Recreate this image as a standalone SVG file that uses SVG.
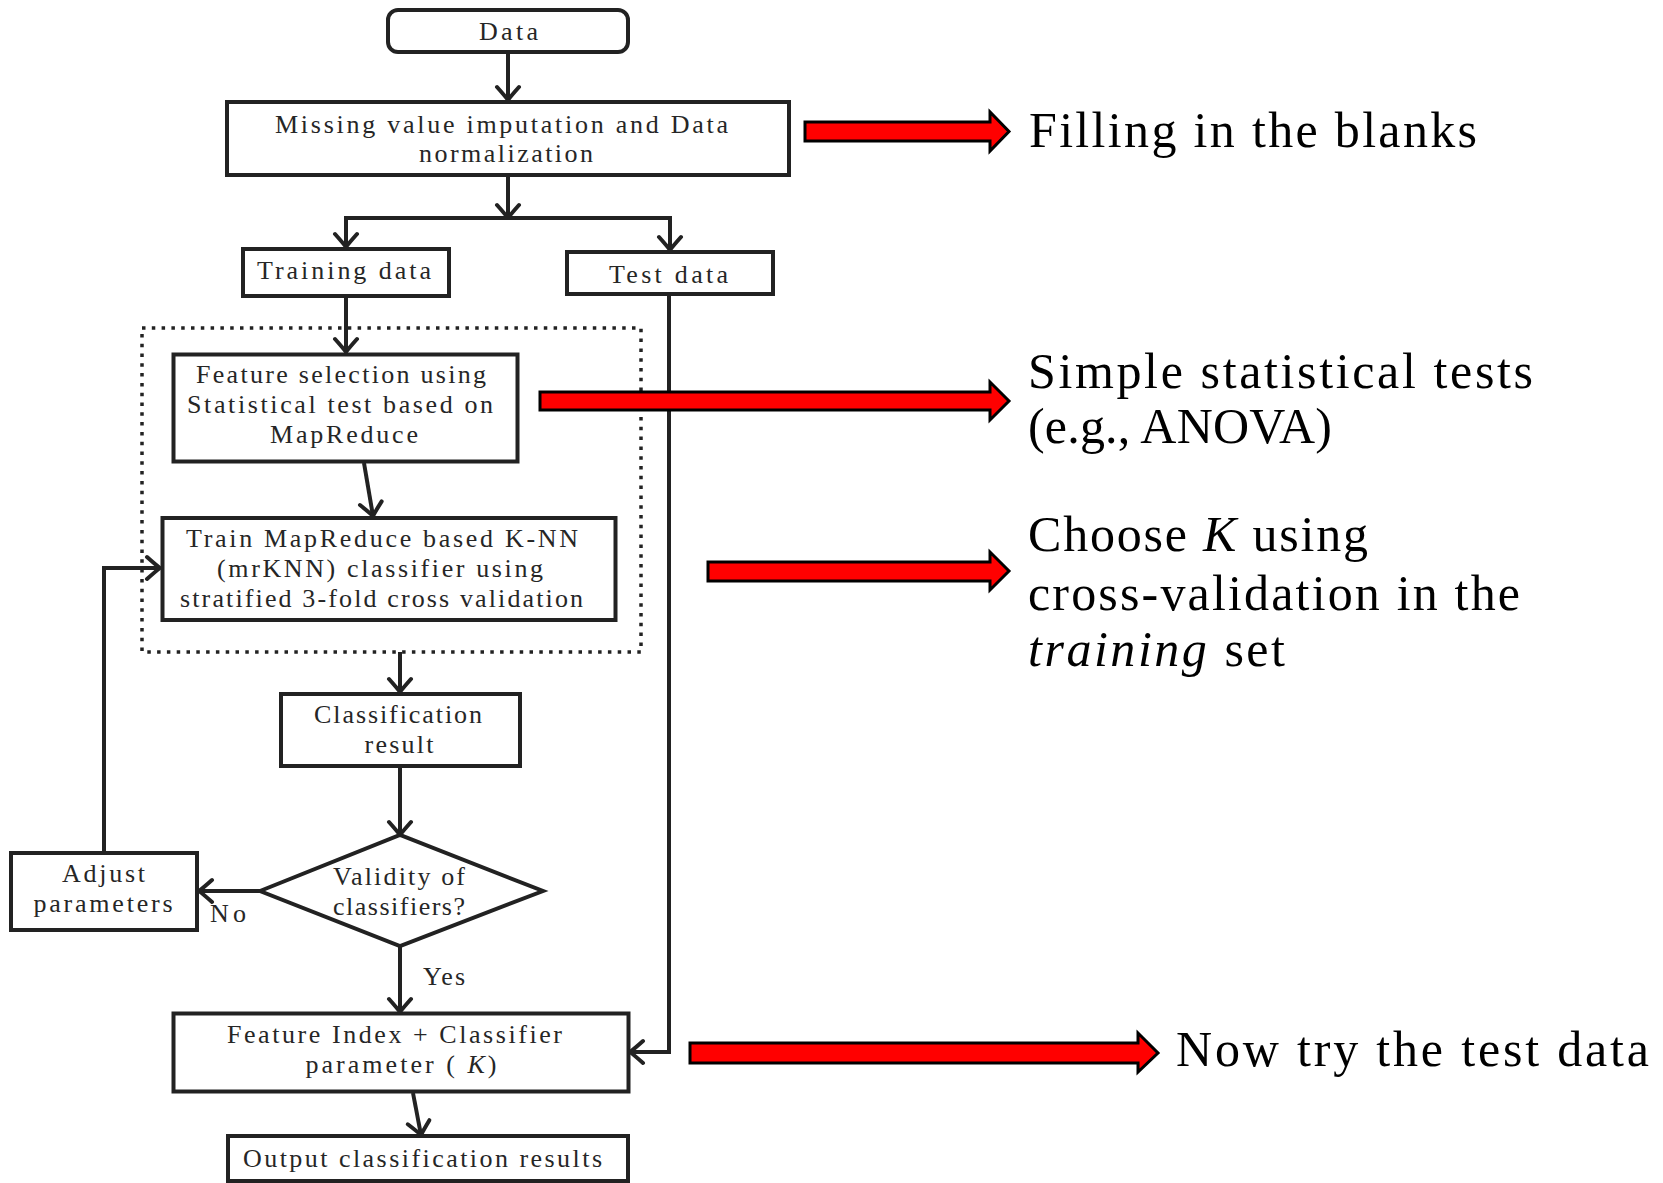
<svg xmlns="http://www.w3.org/2000/svg" width="1663" height="1183" viewBox="0 0 1663 1183">
<style>
  .box { fill: #fff; stroke: #222; stroke-width: 4; }
  .dot { fill: none; stroke: #222; stroke-width: 3.5; stroke-dasharray: 3.5 6.3; }
  .con { fill: none; stroke: #222; stroke-width: 4; }
  .t { font-family: 'Liberation Serif', 'DejaVu Serif', serif; font-size: 26px; fill: #262626; text-anchor: middle; }
  .ts { font-family: 'Liberation Serif', 'DejaVu Serif', serif; font-size: 26px; fill: #262626; }
  .big { font-family: 'Liberation Serif', 'DejaVu Serif', serif; font-size: 50px; fill: #000; }
  .red { fill: #ff0000; stroke: #000; stroke-width: 3; stroke-linejoin: miter; }
  .it { font-style: italic; }
</style>
<defs>
  <marker id="ah" viewBox="-16 -14 18 28" refX="0" refY="0" markerWidth="18" markerHeight="28" markerUnits="userSpaceOnUse" orient="auto">
    <path d="M-13,-11 Q-4,-3 0,0 Q-4,3 -13,11" fill="none" stroke="#222" stroke-width="4" stroke-linecap="round"/>
  </marker>
</defs>
<rect width="1663" height="1183" fill="#fff"/>

<g id="group-cv">
  <rect class="dot" x="142" y="328" width="499" height="324"/>
</g>

<g id="connectors">
  <line class="con" x1="508" y1="53" x2="508" y2="100" marker-end="url(#ah)"/>
  <line class="con" x1="508" y1="175" x2="508" y2="218" marker-end="url(#ah)"/>
  <line class="con" x1="344" y1="218" x2="672" y2="218"/>
  <line class="con" x1="346" y1="218" x2="346" y2="247" marker-end="url(#ah)"/>
  <line class="con" x1="670" y1="218" x2="670" y2="250" marker-end="url(#ah)"/>
  <line class="con" x1="346" y1="297" x2="346" y2="352" marker-end="url(#ah)"/>
  <line class="con" x1="364" y1="463" x2="373" y2="516" marker-end="url(#ah)"/>
  <line class="con" x1="400" y1="652" x2="400" y2="692" marker-end="url(#ah)"/>
  <line class="con" x1="400" y1="768" x2="400" y2="835" marker-end="url(#ah)"/>
  <line class="con" x1="260" y1="891" x2="199" y2="891" marker-end="url(#ah)"/>
  <path class="con" d="M104,853 V568 H160" marker-end="url(#ah)"/>
  <line class="con" x1="400" y1="947" x2="400" y2="1012" marker-end="url(#ah)"/>
  <path class="con" d="M669,294 V1052 H630" marker-end="url(#ah)"/>
  <line class="con" x1="413" y1="1093" x2="421" y2="1135" marker-end="url(#ah)"/>
</g>

<g id="node-data">
  <rect class="box" x="388" y="10" width="240" height="42" rx="10"/>
  <text class="t" x="508.5" y="40" textLength="59" lengthAdjust="spacing">Data</text>
</g>
<g id="node-missing">
  <rect class="box" x="227" y="102" width="562" height="73"/>
  <text class="t" x="501.5" y="133" textLength="453" lengthAdjust="spacing">Missing value imputation and Data</text>
  <text class="t" x="506" y="162" textLength="174" lengthAdjust="spacing">normalization</text>
</g>
<g id="node-training">
  <rect class="box" x="243" y="249" width="206" height="47"/>
  <text class="t" x="344" y="279" textLength="174" lengthAdjust="spacing">Training data</text>
</g>
<g id="node-test">
  <rect class="box" x="567" y="252" width="206" height="42"/>
  <text class="t" x="668.5" y="283" textLength="119" lengthAdjust="spacing">Test data</text>
</g>
<g id="node-feature-selection">
  <rect class="box" x="173.5" y="354.5" width="344" height="107"/>
  <text class="t" x="341" y="383" textLength="290" lengthAdjust="spacing">Feature selection using</text>
  <text class="t" x="340" y="413" textLength="306" lengthAdjust="spacing">Statistical test based on</text>
  <text class="t" x="344" y="443" textLength="148" lengthAdjust="spacing">MapReduce</text>
</g>
<g id="node-train">
  <rect class="box" x="162.5" y="518" width="453" height="102"/>
  <text class="t" x="382" y="547" textLength="392" lengthAdjust="spacing">Train MapReduce based K-NN</text>
  <text class="t" x="380" y="577" textLength="326" lengthAdjust="spacing">(mrKNN) classifier using</text>
  <text class="t" x="381.5" y="607" textLength="403" lengthAdjust="spacing">stratified 3-fold cross validation</text>
</g>
<g id="node-classification">
  <rect class="box" x="281" y="694" width="239" height="72"/>
  <text class="t" x="398" y="723" textLength="168" lengthAdjust="spacing">Classification</text>
  <text class="t" x="399" y="753" textLength="69" lengthAdjust="spacing">result</text>
</g>
<g id="node-validity">
  <polygon class="box" points="260,891 400,835 543,891 400,946"/>
  <text class="t" x="399" y="885" textLength="132" lengthAdjust="spacing">Validity of</text>
  <text class="t" x="399" y="915" textLength="132" lengthAdjust="spacing">classifiers?</text>
</g>
<g id="node-adjust">
  <rect class="box" x="11" y="853" width="186" height="77"/>
  <text class="t" x="103.5" y="882" textLength="83" lengthAdjust="spacing">Adjust</text>
  <text class="t" x="103" y="912" textLength="139" lengthAdjust="spacing">parameters</text>
</g>
<g id="labels">
  <text class="ts" x="210" y="922" textLength="36" lengthAdjust="spacing">No</text>
  <text class="ts" x="423" y="985" textLength="42" lengthAdjust="spacing">Yes</text>
</g>
<g id="node-feature-index">
  <rect class="box" x="173.5" y="1013.5" width="455" height="78"/>
  <text class="t" x="394.5" y="1043" textLength="335" lengthAdjust="spacing">Feature Index + Classifier</text>
  <text class="t" x="401" y="1073" textLength="191" lengthAdjust="spacing">parameter ( <tspan class="it">K</tspan>)</text>
</g>
<g id="node-output">
  <rect class="box" x="228" y="1136" width="400" height="45"/>
  <text class="t" x="422.5" y="1167" textLength="359" lengthAdjust="spacing">Output classification results</text>
</g>

<g id="annotations">
  <polygon class="red" points="805,122 990,122 990,112 1009,131.5 990,151 990,141 805,141"/>
  <polygon class="red" points="540,392 990,392 990,382 1009,401 990,420 990,410 540,410"/>
  <polygon class="red" points="708,562 990,562 990,552 1009,571 990,590 990,581 708,581"/>
  <polygon class="red" points="690,1043 1138,1043 1138,1033 1158,1053 1138,1072 1138,1063 690,1063"/>
  <text class="big" x="1029" y="147" textLength="448" lengthAdjust="spacing">Filling in the blanks</text>
  <text class="big" x="1028" y="388" textLength="505" lengthAdjust="spacing">Simple statistical tests</text>
  <text class="big" x="1028" y="443" textLength="304" lengthAdjust="spacing">(e.g., ANOVA)</text>
  <text class="big" x="1028" y="551" textLength="340" lengthAdjust="spacing">Choose <tspan class="it">K</tspan> using</text>
  <text class="big" x="1028" y="610" textLength="492" lengthAdjust="spacing">cross-validation in the</text>
  <text class="big" x="1028" y="666" textLength="257" lengthAdjust="spacing"><tspan class="it">training</tspan> set</text>
  <text class="big" x="1176" y="1066" textLength="473" lengthAdjust="spacing">Now try the test data</text>
</g>
</svg>
